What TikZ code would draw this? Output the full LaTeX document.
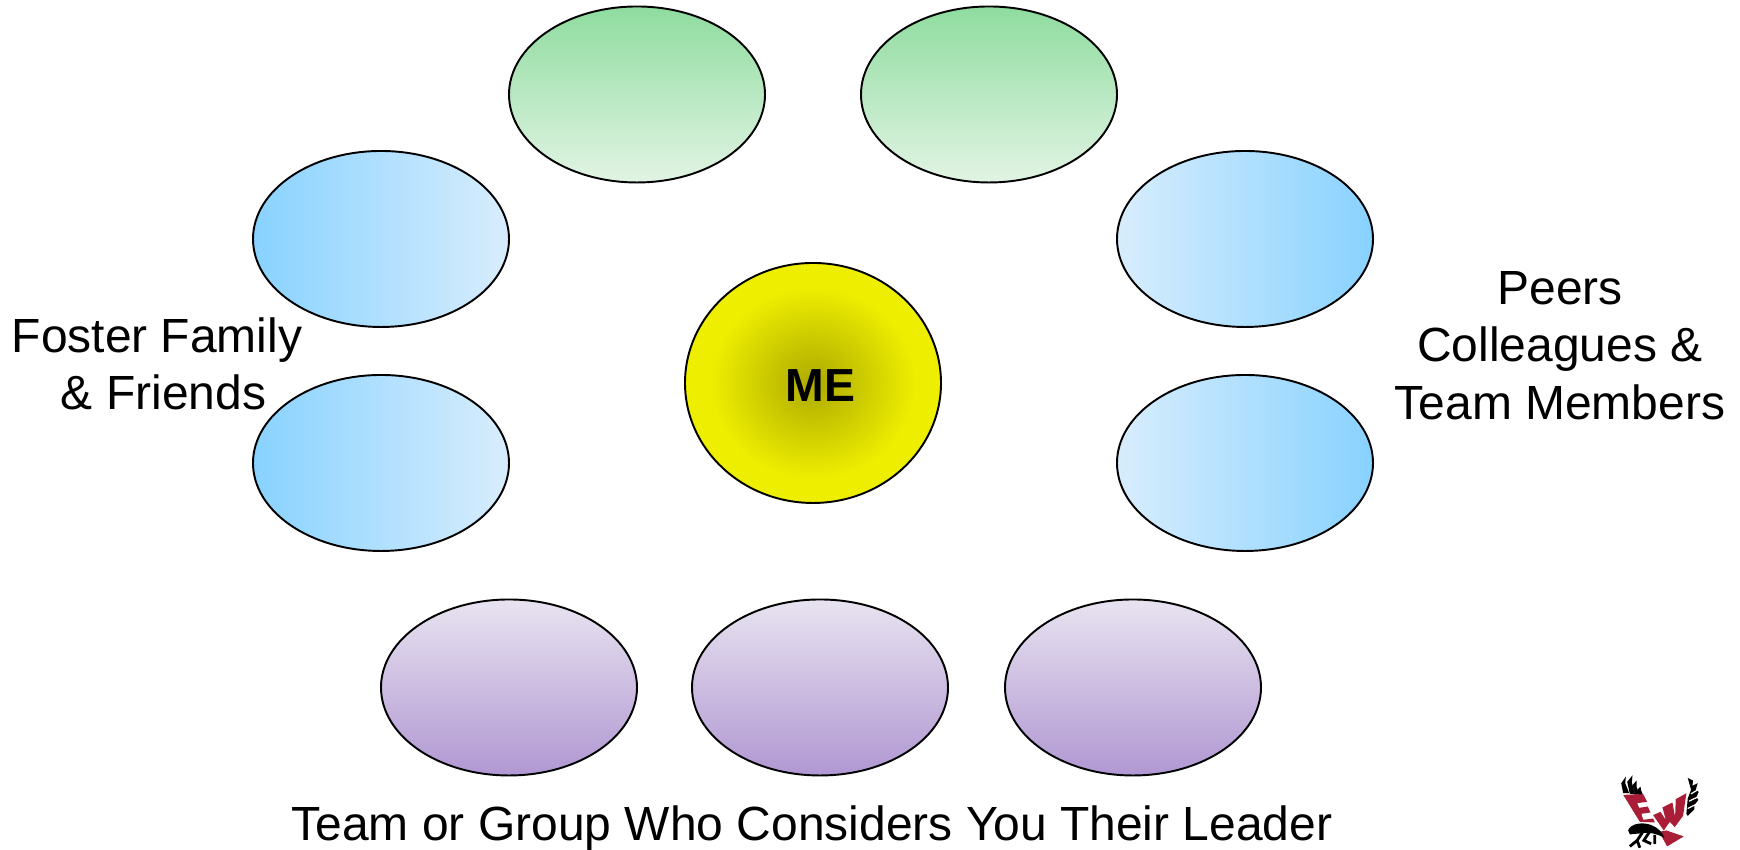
\documentclass[tikz,border=0pt]{standalone}
\usepackage{fontspec}
\setmainfont{Liberation Sans}
\usetikzlibrary{shapes.geometric}
\usetikzlibrary{shadings}

\definecolor{skyDark}{HTML}{88D2FF}
\definecolor{skyLight}{HTML}{D8EDFD}
\definecolor{leafDark}{HTML}{8FDC9F}
\definecolor{leafLight}{HTML}{E2F4E4}
\definecolor{plumDark}{HTML}{B097D2}
\definecolor{plumLight}{HTML}{E8E3F0}
\definecolor{meYellow}{HTML}{EEEE00}
\definecolor{meDark}{HTML}{ADAA00}
\definecolor{logoRed}{HTML}{A91E36}

\pgfdeclareradialshading{meglow}{\pgfpoint{0bp}{0bp}}{color(0bp)=(meDark); color(20bp)=(meYellow); color(100bp)=(meYellow)}

\tikzset{
  blob/.style={ellipse,draw=black,line width=.55pt,inner sep=0pt,minimum width=2.56cm,minimum height=1.76cm},
  family/.style={blob,left color=skyDark,right color=skyLight},
  peer/.style={blob,left color=skyLight,right color=skyDark},
  mentor/.style={blob,top color=leafDark,bottom color=leafLight},
  team/.style={blob,top color=plumLight,bottom color=plumDark},
  lbl/.style={align=center,inner sep=0pt,font=\fontsize{13.65}{16.4}\selectfont},
}

\begin{document}
\begin{tikzpicture}
\useasboundingbox (0,0) rectangle (17.4,8.5);

\node[mentor] (m1) at (6.37,7.555) {};
\node[mentor] (m2) at (9.89,7.555) {};

\node[family] (f1) at (3.81,6.11) {};
\node[family] (f2) at (3.81,3.87) {};
\node[peer] (p1) at (12.45,6.11) {};
\node[peer] (p2) at (12.45,3.87) {};

\node[team] (t1) at (5.09,1.625) {};
\node[team] (t2) at (8.20,1.625) {};
\node[team] (t3) at (11.33,1.625) {};

\node[ellipse,draw=black,line width=.55pt,inner sep=0pt,minimum width=2.56cm,minimum height=2.40cm,shading=meglow] (me) at (8.13,4.67) {};
\node[inner sep=0pt,font=\fontsize{13.2}{15}\selectfont\bfseries] (melabel) at (8.205,4.64) {ME};

\node[lbl] (foster) at (1.57,4.86) {Foster Family\\\hspace*{.13cm}\& Friends};
\node[lbl] (peers) at (15.60,5.046) {Peers\\Colleagues \&\\Team Members};
\node[lbl] (leader) at (8.12,.216) {Team or Group Who Considers You Their Leader};

% logo
\begin{scope}[shift={(15.6,1.1)},x=.003333cm,y=-.003333cm]
\fill[black] (184,130) -- (198,110) -- (196,130) -- (208,160) -- (190,160) -- cycle;
\fill[black] (202,126) -- (218,106) -- (216,128) -- (226,164) -- (210,162) -- cycle;
\fill[black] (218,136) -- (230,122) -- (230,140) -- (238,164) -- (226,164) -- cycle;
\fill[black] (232,150) -- (242,140) -- (244,152) -- (250,166) -- (238,166) -- cycle;
\fill[logoRed] (190,165) -- (250,163) -- (262,186) -- (232,190) -- (238,204) -- (264,200) -- (272,218) -- (245,222) -- (250,240) -- (280,236) -- (285,248) -- (240,246) -- cycle;
\fill[logoRed] (280,226) -- (302,216) -- (318,240) -- (308,203) -- (338,188) -- (346,232) -- (348,178) -- (380,160) -- (370,228) -- (345,262) -- (330,246) -- (312,272) -- cycle;
\fill[logoRed] (298,276) -- (320,272) -- (372,290) -- (322,320) -- cycle;
\fill[black] (205,272) .. controls (212,250) and (250,246) .. (275,256) .. controls (295,264) and (308,278) .. (314,294) .. controls (295,284) and (270,276) .. (248,280) .. controls (235,282) and (222,282) .. (210,284) -- cycle;
\draw[black,line width=.8pt] (248,278) -- (232,302) -- (210,320) (232,302) -- (240,324) (268,278) -- (252,302) -- (274,312) (285,285) -- (285,312);
\fill[black] (384,114) -- (400,122) -- (398,138) -- (414,130) -- (408,150) -- (417,156) -- (410,172) -- (416,180) -- (404,196) -- (404,208) -- (384,228) -- (380,222) -- (384,176) -- (394,150) -- cycle;
\draw[white,line width=.35pt] (417,148) -- (394,162) (417,170) -- (388,184) (412,192) -- (384,206);
\end{scope}

\end{tikzpicture}
\end{document}
